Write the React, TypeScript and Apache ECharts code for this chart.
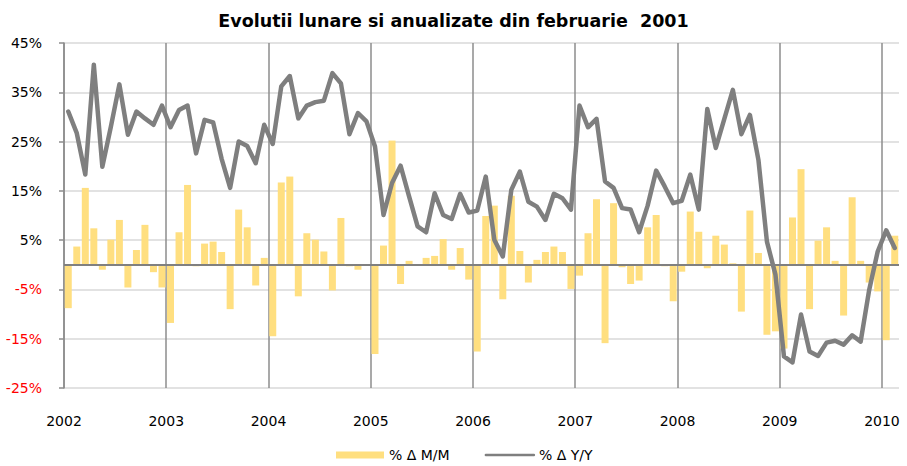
import React, { useEffect, useRef } from "react";
import * as echarts from "echarts";

const years = ["2002", "2003", "2004", "2005", "2006", "2007", "2008", "2009", "2010"];

// % Δ M/M (monthly change), Jan 2002 – Feb 2010
const mm = [
  -8.8, 3.7, 15.6, 7.4, -1.0, 5.1, 9.1, -4.6, 3.0, 8.1, -1.5, -4.6,
  -11.8, 6.6, 16.2, -0.3, 4.3, 4.7, 2.6, -9.0, 11.2, 7.6, -4.2, 1.4,
  -14.5, 16.7, 17.9, -6.4, 6.4, 5.1, 2.7, -5.2, 9.5, -0.3, -1.0, 0,
  -18.1, 3.9, 25.2, -3.9, 0.8, 0, 1.4, 1.8, 5.2, -1.0, 3.4, -3.0,
  -17.6, 9.9, 12.0, -7.0, 14.0, 2.8, -3.6, 1.0, 2.6, 3.7, 2.6, -4.9,
  -2.2, 6.4, 13.3, -15.9, 12.5, -0.5, -3.9, -3.2, 7.6, 10.1, -0.3, -7.4,
  -1.4, 10.8, 6.7, -0.7, 5.9, 4.1, 0.3, -9.5, 11.0, 2.4, -14.2, -13.5,
  -17.0, 9.6, 19.4, -9.0, 4.9, 7.6, 0.8, -10.3, 13.7, 0.8, -3.6, -5.4,
  -15.3, 5.9,
];

// % Δ Y/Y (annual change), Jan 2002 – Feb 2010
const yy = [
  31.1, 26.7, 18.3, 40.6, 19.9, 28.0, 36.6, 26.4, 31.1, 29.7, 28.4, 32.3,
  27.9, 31.4, 32.3, 22.6, 29.4, 28.9, 21.5, 15.6, 25.0, 24.1, 20.6, 28.4,
  24.5, 36.2, 38.3, 29.7, 32.3, 33.0, 33.3, 38.9, 36.8, 26.5, 30.8, 29.1,
  24.0, 10.1, 16.6, 20.1, 13.9, 7.8, 6.6, 14.5, 10.1, 9.3, 14.4, 10.6,
  11.0, 17.9, 5.1, 1.7, 15.2, 18.9, 12.8, 11.8, 9.1, 14.4, 13.5, 11.2,
  32.3, 27.9, 29.6, 16.9, 15.6, 11.5, 11.2, 6.6, 12.0, 19.1, 15.9, 12.5,
  13.0, 18.3, 11.2, 31.6, 23.7, 29.6, 35.5, 26.5, 30.4, 21.3, 4.7, -2.0,
  -18.6, -19.8, -10.1, -17.6, -18.5, -15.8, -15.4, -16.2, -14.3, -15.6, -5.1, 2.7,
  7.0, 3.4,
];

const seriesNames = ["% Δ M/M", "% Δ Y/Y"];
const MONTHS_PER_YEAR = 12;
const FONT = "DejaVu Sans";

export default function App() {
  const ref = useRef<HTMLDivElement>(null);

  useEffect(() => {
    document.body.style.margin = "0";
    if (!ref.current) return;
    const chart = echarts.init(ref.current, null, { renderer: "svg" });
    const nMonths = mm.length;

    chart.setOption({
      animation: false,
      textStyle: { fontFamily: FONT },
      title: {
        text: "Evolutii lunare si anualizate din februarie  2001",
        left: "center",
        top: 7,
        padding: [5, 5, 5, 25],
        textStyle: { fontFamily: FONT, fontSize: 17.5, fontWeight: "bold", color: "#000" },
      },
      legend: {
        data: [
          { name: seriesNames[0], icon: "rect" },
          { name: seriesNames[1], itemStyle: { color: "rgba(0,0,0,0)", borderWidth: 0, opacity: 0 } },
        ],
        left: 336,
        top: 448,
        padding: 0,
        itemWidth: 48,
        itemHeight: 7,
        itemGap: 35,
        lineStyle: { width: 2.5 },
        textStyle: { fontFamily: FONT, fontSize: 14, color: "#000" },
      },
      grid: {
        left: 64,
        right: 8,
        top: 43,
        bottom: 78,
        containLabel: false,
        outerBoundsMode: "none",
      },
      xAxis: {
        type: "value",
        min: 0,
        max: nMonths,
        interval: MONTHS_PER_YEAR,
        axisLine: { show: false, onZero: false },
        axisTick: { show: false },
        splitLine: { show: false },
        axisLabel: {
          margin: 26,
          fontFamily: FONT,
          fontSize: 14,
          color: "#000",
          showMaxLabel: false,
          formatter: (v: number) => years[Math.round(v / MONTHS_PER_YEAR)] ?? "",
        },
      },
      yAxis: {
        type: "value",
        min: -25,
        max: 45,
        interval: 10,
        axisLine: { show: true, lineStyle: { color: "#8c8c8c", width: 1.5 } },
        axisTick: { show: true, length: 5, lineStyle: { color: "#8c8c8c", width: 1.5 } },
        splitLine: { show: true, lineStyle: { color: "#d9d9d9", width: 1.5 } },
        axisLabel: {
          margin: 22,
          fontFamily: FONT,
          fontSize: 14,
          formatter: (v: number) => (v < 0 ? `{neg|${v}%}` : `{pos|${v}%}`),
          rich: {
            neg: { color: "#ff0000", fontFamily: FONT, fontSize: 14 },
            pos: { color: "#000000", fontFamily: FONT, fontSize: 14 },
          },
        },
      },
      series: [
        {
          name: seriesNames[0],
          type: "bar",
          barWidth: 7,
          itemStyle: { color: "#ffdf80" },
          data: mm.map((v, i) => [i + 0.5, v]),
          markLine: {
            silent: true,
            symbol: "none",
            label: { show: false },
            lineStyle: { color: "#808080", width: 2, type: "solid" },
            data: [{ yAxis: 0 }],
          },
          z: 2,
        },
        {
          name: seriesNames[1],
          type: "line",
          symbol: "none",
          lineStyle: { color: "#7f7f7f", width: 4.5, join: "round", cap: "round" },
          itemStyle: { color: "#7f7f7f" },
          data: yy.map((v, i) => [i + 0.5, v]),
          markLine: {
            silent: true,
            symbol: "none",
            label: { show: false },
            lineStyle: { color: "#8c8c8c", width: 1.5, type: "solid" },
            data: years.map((_, k) => ({ xAxis: k * MONTHS_PER_YEAR })),
            z: 1,
          },
          z: 3,
        },
      ],
    });

    return () => chart.dispose();
  }, []);

  return <div ref={ref} style={{ width: 907, height: 466 }} />;
}
